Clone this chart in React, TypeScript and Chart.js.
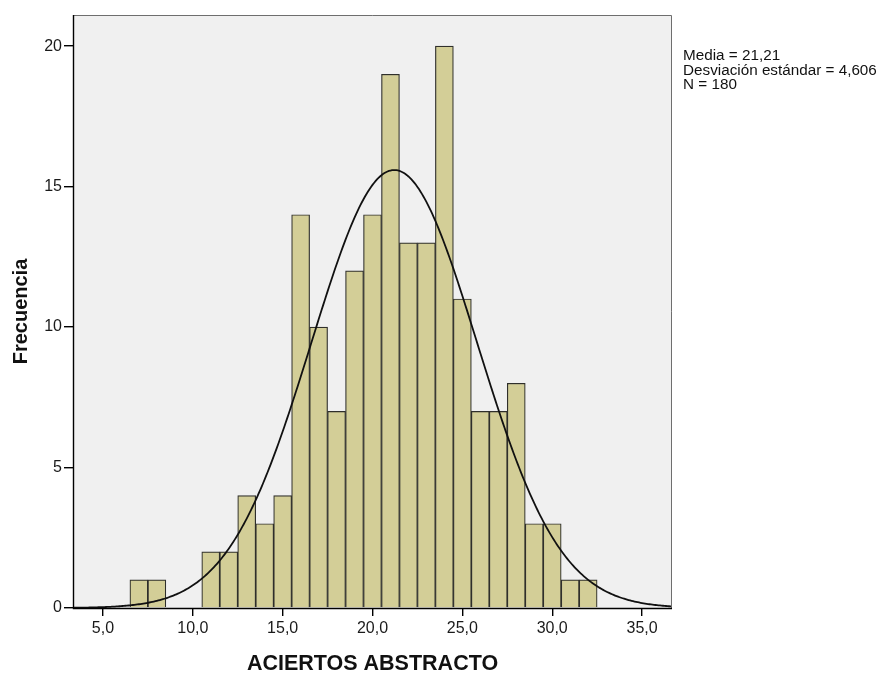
import React, { useEffect, useRef } from "react";
import { Chart, registerables } from "chart.js";

Chart.register(...registerables);

// Score values (bin centres, width 1) and their frequencies
const scores = [7, 8, 9, 10, 11, 12, 13, 14, 15, 16, 17, 18, 19, 20, 21, 22, 23, 24, 25, 26, 27, 28, 29, 30, 31, 32];
const counts = [1, 1, 0, 0, 2, 2, 4, 3, 4, 14, 10, 7, 12, 14, 19, 13, 13, 20, 11, 7, 7, 8, 3, 3, 1, 1];

// Summary statistics shown beside the plot
const meanValue = 21.21;
const sdValue = 4.606;
const nValue = 180;
const binWidth = 1;
const statLines = ["Media = 21,21", "Desviación estándar = 4,606", "N = 180"];

// Axes
const xTickValues = [5, 10, 15, 20, 25, 30, 35];
const yTickValues = [0, 5, 10, 15, 20];
const xMin = 10 / 3;
const xMax = 110 / 3;
const yMax = 21.11;
const xTitle = "ACIERTOS ABSTRACTO";
const yTitle = "Frecuencia";

const FONT = "'Liberation Sans', Arial, Helvetica, sans-serif";

// Fitted normal density scaled to frequency
function normalCurve() {
  const pts: { x: number; y: number }[] = [];
  const coef = (nValue * binWidth) / (sdValue * Math.sqrt(2 * Math.PI));
  for (let i = 0; i <= 400; i++) {
    const x = xMin + ((xMax - xMin) * i) / 400;
    const z = (x - meanValue) / sdValue;
    pts.push({ x, y: coef * Math.exp(-0.5 * z * z) });
  }
  return pts;
}

const decorations = {
  id: "histDecor",
  beforeDraw(chart: any) {
    const { ctx, chartArea: a } = chart;
    ctx.save();
    ctx.fillStyle = "#ffffff";
    ctx.fillRect(0, 0, chart.width, chart.height);
    ctx.fillStyle = "#f0f0f0";
    ctx.fillRect(a.left, a.top, a.right - a.left, a.bottom - a.top);
    ctx.restore();
  },
  afterDraw(chart: any) {
    const { ctx, chartArea: a } = chart;
    ctx.save();
    // frame: top and right in grey, left and bottom axis lines in black
    ctx.lineWidth = 1;
    ctx.strokeStyle = "#6e6e6e";
    ctx.beginPath();
    ctx.moveTo(a.left, a.top + 0.5);
    ctx.lineTo(a.right - 0.5, a.top + 0.5);
    ctx.lineTo(a.right - 0.5, a.bottom);
    ctx.stroke();
    ctx.strokeStyle = "#000000";
    ctx.lineWidth = 1.4;
    ctx.beginPath();
    ctx.moveTo(a.left + 0.5, a.top);
    ctx.lineTo(a.left + 0.5, a.bottom + 0.5);
    ctx.lineTo(a.right, a.bottom + 0.5);
    ctx.stroke();

    // axis titles
    ctx.fillStyle = "#111111";
    ctx.font = `bold 21.5px ${FONT}`;
    ctx.textAlign = "center";
    ctx.textBaseline = "alphabetic";
    ctx.fillText(xTitle, (a.left + a.right) / 2, 669.5);

    ctx.save();
    ctx.translate(27, (a.top + a.bottom) / 2);
    ctx.rotate(-Math.PI / 2);
    ctx.font = `bold 20px ${FONT}`;
    ctx.fillText(yTitle, 0, 0);
    ctx.restore();

    // statistics block
    ctx.font = `14px ${FONT}`;
    ctx.textAlign = "left";
    const baselines = [60, 74.5, 89];
    statLines.forEach((line, i) => {
      ctx.save();
      ctx.translate(683, baselines[i]);
      ctx.scale(1.09, 1);
      ctx.fillText(line, 0, 0);
      ctx.restore();
    });
    ctx.restore();
  },
};

export default function App() {
  const canvasRef = useRef<HTMLCanvasElement | null>(null);

  useEffect(() => {
    if (!canvasRef.current) return;
    const barData = scores
      .map((s, i) => ({ x: s, y: counts[i] }))
      .filter((p) => p.y > 0);

    const chart = new Chart(canvasRef.current, {
      type: "bar",
      data: {
        datasets: [
          {
            type: "line",
            data: normalCurve(),
            borderColor: "#111111",
            borderWidth: 1.8,
            pointRadius: 0,
            fill: false,
            tension: 0,
            order: 0,
          } as any,
          {
            type: "bar",
            data: barData,
            backgroundColor: "#d3ce97",
            borderColor: "#2f2f2b",
            borderWidth: 1.2,
            borderSkipped: "start",
            barPercentage: 1,
            categoryPercentage: 1,
            grouped: false,
            order: 1,
          } as any,
        ],
      },
      options: {
        responsive: false,
        animation: false,
        devicePixelRatio: 1,
        layout: { padding: { left: 0, right: 213, top: 15, bottom: 0 } },
        plugins: {
          legend: { display: false },
          tooltip: { enabled: false },
          title: { display: false },
        },
        scales: {
          x: {
            type: "linear",
            min: xMin,
            max: xMax,
            offset: false,
            afterBuildTicks: (scale: any) => {
              scale.ticks = xTickValues.map((v) => ({ value: v }));
            },
            afterFit: (scale: any) => {
              scale.height = 65;
            },
            grid: {
              display: true,
              offset: false,
              drawOnChartArea: false,
              drawTicks: true,
              tickLength: 8,
              color: "#000000",
              lineWidth: 1.4,
            },
            border: { display: false },
            ticks: {
              padding: 3,
              maxRotation: 0,
              autoSkip: false,
              color: "#1a1a1a",
              font: { family: FONT, size: 16 },
              callback: (v: any) => Number(v).toFixed(1).replace(".", ","),
            },
          },
          y: {
            type: "linear",
            min: 0,
            max: yMax,
            afterBuildTicks: (scale: any) => {
              scale.ticks = yTickValues.map((v) => ({ value: v }));
            },
            afterFit: (scale: any) => {
              scale.width = 73;
            },
            grid: {
              display: true,
              drawOnChartArea: false,
              drawTicks: true,
              tickLength: 9,
              color: "#000000",
              lineWidth: 1.4,
            },
            border: { display: false },
            ticks: {
              padding: 2,
              autoSkip: false,
              color: "#1a1a1a",
              font: { family: FONT, size: 16 },
              callback: (v: any) => String(v),
            },
          },
        },
      },
      plugins: [decorations],
    });
    return () => chart.destroy();
  }, []);

  return (
    <div style={{ position: "fixed", left: 0, top: 0, width: 885, height: 673, background: "#ffffff" }}>
      <canvas ref={canvasRef} width={885} height={673} style={{ display: "block" }} />
    </div>
  );
}
